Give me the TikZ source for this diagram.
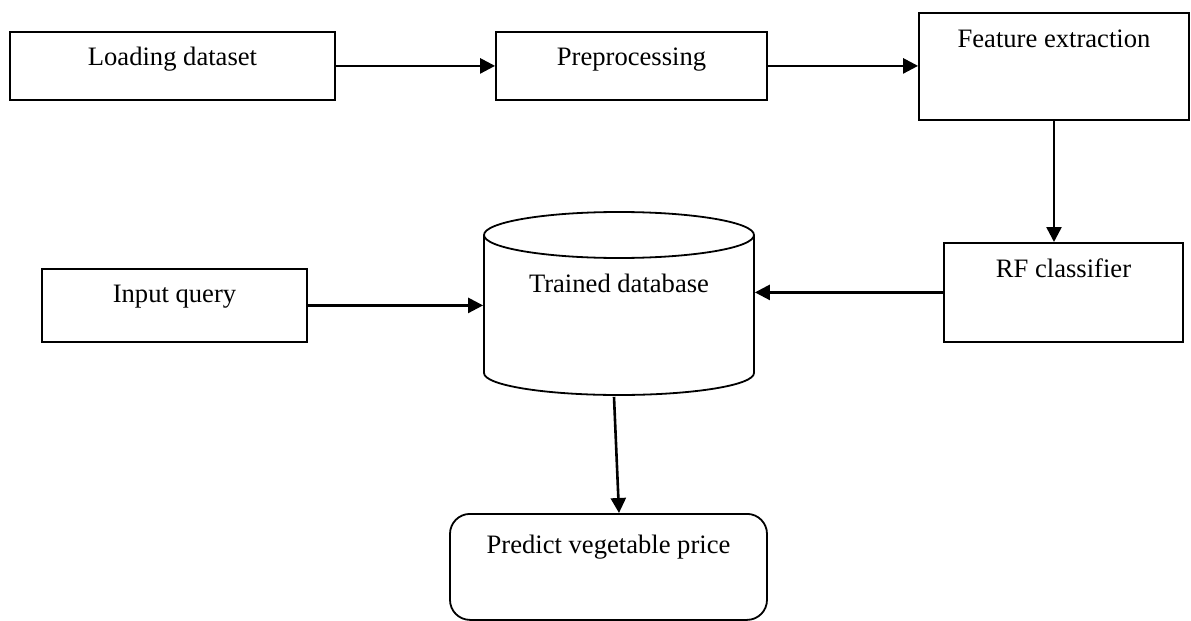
\documentclass[tikz,border=0pt]{standalone}
\usepackage{fontspec}
\setmainfont{Liberation Serif}
\usetikzlibrary{arrows.meta}

\begin{document}
\begin{tikzpicture}[x=0.5pt, y=-0.5pt,
        box/.style={draw, line width=0.9pt, inner sep=0pt, anchor=north, align=center,
                    font=\fontsize{13.3}{16}\selectfont},
        arr/.style={line width=1.3pt, -{Triangle[length=7.5pt, width=7.5pt]}}]
            \useasboundingbox (0,0) rectangle (1191,621);

            \node (load) [box, minimum width=162.5pt, text height=17pt, text depth=17pt] at (172.5,31) {Loading dataset};
            \node (pre) [box, minimum width=135.5pt, text height=17pt, text depth=17pt] at (631.5,31) {Preprocessing};
            \node (feat) [box, minimum width=135pt, text height=17.5pt, text depth=36pt] at (1054,12) {Feature extraction};
            \node (rf) [box, minimum width=119.5pt, text height=17.5pt, text depth=32pt] at (1063.5,242) {RF classifier};
            \node (inq) [box, minimum width=132.5pt, text height=17pt, text depth=19.5pt] at (174.5,268) {Input query};
            \node (pred) [box, rounded corners=10pt, minimum width=158.5pt, text height=20pt, text depth=33pt] at (608.5,513) {Predict vegetable price};

            % cylinder
            \node (db) [box, draw=none, minimum width=135pt, text height=40pt, text depth=51.5pt] at (619,212) {Trained database};
            \draw[line width=0.9pt] (484,235) -- (484,373) arc[start angle=180, end angle=360, x radius=67.5pt, y radius=11pt] -- (754,235);
            \draw[line width=0.9pt] (619,235) ellipse[x radius=67.5pt, y radius=11.5pt];

            \draw[arr] (load.east) -- (pre.west);
            \draw[arr] (pre.east) -- (pre.east -| feat.west);
            \draw[arr] (feat.south) -- (feat.south |- rf.north);
            \draw[arr] (rf.west) -- (rf.west -| db.east);
            \draw[arr] (inq.east) -- (inq.east -| db.west);
            \draw[arr] ([xshift=-2.5pt]db.south) -- ([xshift=5.25pt]pred.north);
        \end{tikzpicture}
\end{document}
